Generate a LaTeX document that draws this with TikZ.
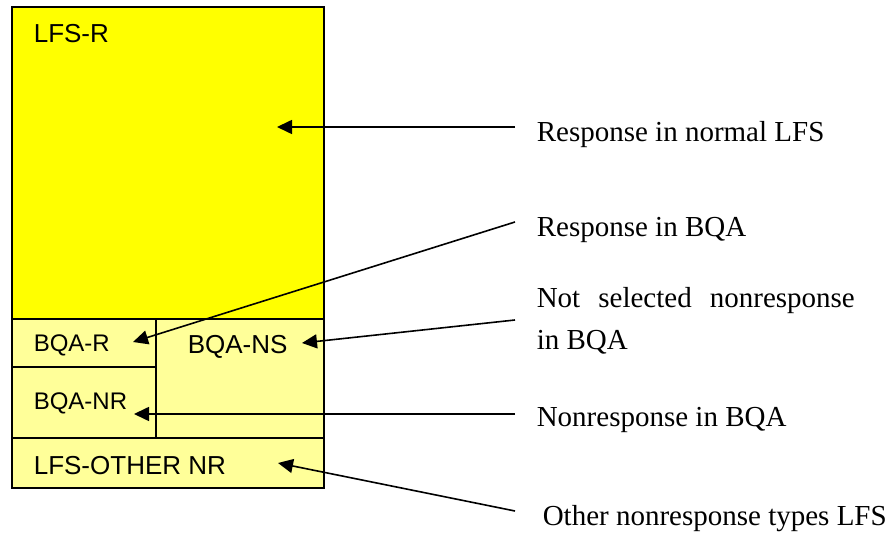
\documentclass[tikz,border=0pt]{standalone}
\usepackage{fontspec}
\setmainfont{Liberation Serif}
\newfontfamily\arialfont{Liberation Sans}
\usetikzlibrary{arrows.meta}

\definecolor{lfsyellow}{RGB}{255,255,0}
\definecolor{bqayellow}{RGB}{255,255,153}

\begin{document}
\begin{tikzpicture}[x=1pt, y=-1pt, >={Triangle[length=15pt, width=14pt]}, line width=1.6pt,
  caja/.style={inner sep=0pt, anchor=base west, font=\arialfont\fontsize{26}{30}\selectfont},
  cajap/.style={caja, font=\arialfont\fontsize{24}{28}\selectfont},
  nota/.style={inner sep=0pt, anchor=base west, font=\fontsize{29}{34}\selectfont}]
  \useasboundingbox (0,0) rectangle (895,534);
  % bloques de la muestra
  \filldraw[fill=lfsyellow] (12,7) rectangle (324,319);
  \filldraw[fill=bqayellow] (12,319) rectangle (324,488);
  \draw (12,438) -- (324,438);
  \draw (156,319) -- (156,438);
  \draw (12,367) -- (156,367);
  \node[caja]  (lfsr)  at (33,43)  {LFS-R};
  \node[cajap] (bqar)  at (33,352) {BQA-R};
  \node[caja]  (bqans) at (187,354) {BQA-NS};
  \node[cajap] (bqanr) at (33,410) {BQA-NR};
  \node[caja]  (lfsot) at (33,475) {LFS-OTHER NR};
  % textos explicativos
  \node[nota] (respn) at (536,142) {Response in normal LFS};
  \node[nota] (respb) at (536,237) {Response in BQA};
  \node[nota] (notsa) at (536,308) {\makebox[318pt][s]{Not selected nonresponse}};
  \node[nota] (notsb) at (536,350) {in BQA};
  \node[nota] (nonrb) at (536,427) {Nonresponse in BQA};
  \node[nota] (other) at (542,526) {Other nonresponse types LFS};
  % flechas
  \coordinate (a1) at (515,127); \coordinate (t1) at (277,127);
  \coordinate (a2) at (515,222); \coordinate (t2) at (133,342);
  \coordinate (a3) at (515,320); \coordinate (t3) at (302,343);
  \coordinate (a4) at (515,414); \coordinate (t4) at (134,414);
  \coordinate (a5) at (515,511); \coordinate (t5) at (278,463);
  \foreach \i in {1,...,5}
    \draw[->] (a\i) -- (t\i);
\end{tikzpicture}
\end{document}
